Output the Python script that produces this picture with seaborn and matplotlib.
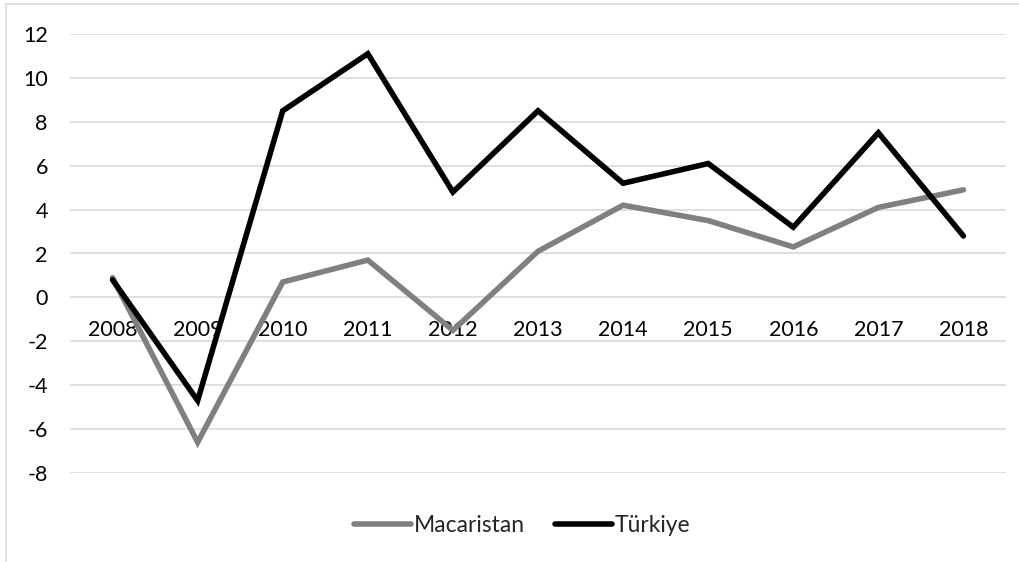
import matplotlib
matplotlib.use("Agg")
import matplotlib.pyplot as plt
import seaborn as sns
import pandas as pd
from matplotlib.patches import Rectangle

years = ["2008", "2009", "2010", "2011", "2012", "2013", "2014", "2015", "2016", "2017", "2018"]
macaristan = [0.9, -6.6, 0.7, 1.7, -1.5, 2.1, 4.2, 3.5, 2.3, 4.1, 4.9]
turkiye = [0.8, -4.7, 8.5, 11.1, 4.8, 8.5, 5.2, 6.1, 3.2, 7.5, 2.8]
series_names = ["Macaristan", "Türkiye"]
y_ticks = [-8, -6, -4, -2, 0, 2, 4, 6, 8, 10, 12]

sns.set_theme(style="white")
plt.rcParams["font.family"] = ["Lato", "DejaVu Sans"]

df = pd.DataFrame({
    "year": years * 2,
    "idx": list(range(len(years))) * 2,
    "value": macaristan + turkiye,
    "series": [series_names[0]] * len(years) + [series_names[1]] * len(years),
})

W, H = 1020, 562
fig = plt.figure(figsize=(W / 100, H / 100), dpi=100)
ax = fig.add_axes([70 / W, 1 - 473 / H, (1006 - 70) / W, (473 - 34) / H])

sns.lineplot(data=df, x="idx", y="value", hue="series", hue_order=series_names,
             palette=["#808080", "#000000"], linewidth=4.0, ax=ax,
             solid_capstyle="round", solid_joinstyle="miter")

ax.set_xlim(-0.5, len(years) - 0.5)
ax.set_ylim(-8, 12)
ax.set_yticks(y_ticks)
ax.set_yticklabels([str(t) for t in y_ticks])
ax.set_xticks(range(len(years)))
ax.set_xticklabels(years)
ax.set_xlabel("")
ax.set_ylabel("")
ax.grid(axis="y", color="#D9D9D9", linewidth=1.2)
ax.set_axisbelow(True)
for s in ["top", "right", "left"]:
    ax.spines[s].set_visible(False)
ax.spines["bottom"].set_position(("data", 0))
ax.spines["bottom"].set_visible(False)
ax.tick_params(axis="x", length=0, pad=16, labelsize=15.5, labelcolor="#000000")
ax.tick_params(axis="y", length=0, pad=16, labelsize=15.5, labelcolor="#000000")

handles, labels = ax.get_legend_handles_labels()
ax.get_legend().remove()
fig.legend(handles, labels, loc="center", bbox_to_anchor=(522 / W, 1 - 526 / H),
           ncol=2, frameon=False, fontsize=16.5, handlelength=2.5,
           handletextpad=0.1, columnspacing=1.3)

fig.patches.append(Rectangle((6 / W, -0.1), 1.2, 1 - 4 / H + 0.1,
                             transform=fig.transFigure, fill=False,
                             edgecolor="#D9D9D9", linewidth=1.2))

fig.savefig("out.png", dpi=100)
